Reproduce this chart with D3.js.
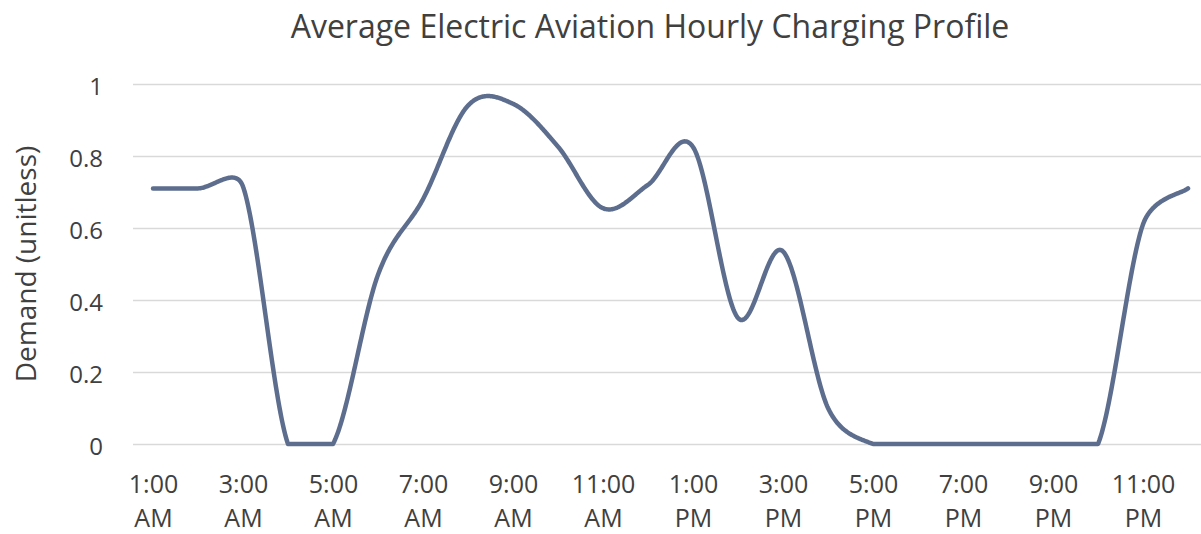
<!DOCTYPE html>
<html>
<head>
<meta charset="utf-8">
<script src="https://cdn.jsdelivr.net/npm/d3@7"></script>
<style>
  html, body { margin: 0; padding: 0; background: #ffffff; }
  svg { display: block; }
  text { font-family: "Open Sans", Lato, sans-serif; fill: #404040; }
</style>
</head>
<body>
<svg id="chart" width="1201" height="534"></svg>
<script>
// Hourly categories (1:00 AM through midnight)
const hours = ["1:00 AM","2:00 AM","3:00 AM","4:00 AM","5:00 AM","6:00 AM",
  "7:00 AM","8:00 AM","9:00 AM","10:00 AM","11:00 AM","12:00 PM",
  "1:00 PM","2:00 PM","3:00 PM","4:00 PM","5:00 PM","6:00 PM",
  "7:00 PM","8:00 PM","9:00 PM","10:00 PM","11:00 PM","12:00 AM"];

// Average normalised charging demand per hour
const demand = [0.71, 0.71, 0.715, 0, 0, 0.47,
  0.68, 0.94, 0.945, 0.826, 0.655, 0.72,
  0.825, 0.35, 0.535, 0.1, 0, 0,
  0, 0, 0, 0, 0.61, 0.71];

// Labelled hours on the category axis
const xTickLabels = ["1:00 AM","3:00 AM","5:00 AM","7:00 AM","9:00 AM","11:00 AM",
  "1:00 PM","3:00 PM","5:00 PM","7:00 PM","9:00 PM","11:00 PM"];

const yTicks = [0, 0.2, 0.4, 0.6, 0.8, 1];

const svg = d3.select("#chart");
const FONT = "'Open Sans', Lato, sans-serif";

const plotLeft = 133, plotRight = 1201;
const x = d3.scalePoint().domain(hours).range([153, 1188]);
const y = d3.scaleLinear().domain([0, 1]).range([444, 84]);

// Horizontal gridlines with value labels
const yAxis = d3.axisLeft(y)
  .tickValues(yTicks)
  .tickSize(-(plotRight - plotLeft))
  .tickPadding(30)
  .tickFormat(d => d3.format("~g")(d));

const gy = svg.append("g")
  .attr("transform", `translate(${plotLeft},0)`)
  .call(yAxis);
gy.select(".domain").remove();
gy.selectAll(".tick line").attr("stroke", "#d9d9d9").attr("stroke-width", 1.5);
gy.selectAll(".tick text")
  .attr("font-size", 24)
  .attr("font-family", FONT)
  .attr("fill", "#404040")
  .attr("dy", 10);

// Category axis labels, split over two lines
const xAxis = d3.axisBottom(x).tickValues(xTickLabels).tickSize(0).tickFormat("");
const gx = svg.append("g").attr("transform", `translate(0,${y(0)})`).call(xAxis);
gx.select(".domain").remove();
gx.selectAll(".tick").each(function(d) {
  const parts = d.split(" ");
  const t = d3.select(this).append("text")
    .attr("text-anchor", "middle")
    .attr("font-size", 25)
    .attr("font-family", FONT)
    .attr("fill", "#404040");
  t.append("tspan").attr("x", 0).attr("y", 49).text(parts[0]);
  t.append("tspan").attr("x", 0).attr("y", 83).text(parts[1]);
});

// Spreadsheet-style smoothing: cubic Bezier segments whose tangent
// handles are 1/6 of the neighbour chord, capped at half the segment length.
// Each segment is sampled and held inside the plot area (no dips below 0).
function smoothPoints(pts, yMax, steps) {
  const out = [pts[0].slice()];
  const dist = (a, b) => Math.hypot(b[0] - a[0], b[1] - a[1]);
  for (let i = 0; i < pts.length - 1; i++) {
    const p0 = pts[Math.max(i - 1, 0)];
    const p1 = pts[i];
    const p2 = pts[i + 1];
    const p3 = pts[Math.min(i + 2, pts.length - 1)];
    const d12 = dist(p1, p2), d02 = dist(p0, p2), d13 = dist(p1, p3);
    let f1 = 1 / 6, f2 = 1 / 6;
    if (d02 / 6 >= d12 / 2 && d02 > 0) f1 = d12 / d02 / 2;
    if (d13 / 6 >= d12 / 2 && d13 > 0) f2 = d12 / d13 / 2;
    const c1 = [p1[0] + (p2[0] - p0[0]) * f1, p1[1] + (p2[1] - p0[1]) * f1];
    const c2 = [p2[0] - (p3[0] - p1[0]) * f2, p2[1] - (p3[1] - p1[1]) * f2];
    for (let s = 1; s <= steps; s++) {
      const t = s / steps, u = 1 - t;
      const bx = u*u*u*p1[0] + 3*u*u*t*c1[0] + 3*u*t*t*c2[0] + t*t*t*p2[0];
      const by = u*u*u*p1[1] + 3*u*u*t*c1[1] + 3*u*t*t*c2[1] + t*t*t*p2[1];
      out.push([bx, Math.min(by, yMax)]);
    }
  }
  return out;
}

const pts = demand.map((v, i) => [x(hours[i]), y(v)]);
const curvePts = smoothPoints(pts, y(0), 60);

svg.append("path")
  .datum(curvePts)
  .attr("fill", "none")
  .attr("stroke", "#5d6d8e")
  .attr("stroke-width", 4.5)
  .attr("stroke-linecap", "round")
  .attr("stroke-linejoin", "round")
  .attr("d", d3.line());

// Titles
svg.append("text")
  .attr("x", 650).attr("y", 38)
  .attr("text-anchor", "middle")
  .attr("font-size", 32)
  .attr("font-family", FONT)
  .text("Average Electric Aviation Hourly Charging Profile");

svg.append("text")
  .attr("transform", "translate(36,264) rotate(-90)")
  .attr("text-anchor", "middle")
  .attr("font-size", 28)
  .attr("font-family", FONT)
  .text("Demand (unitless)");
</script>
</body>
</html>
